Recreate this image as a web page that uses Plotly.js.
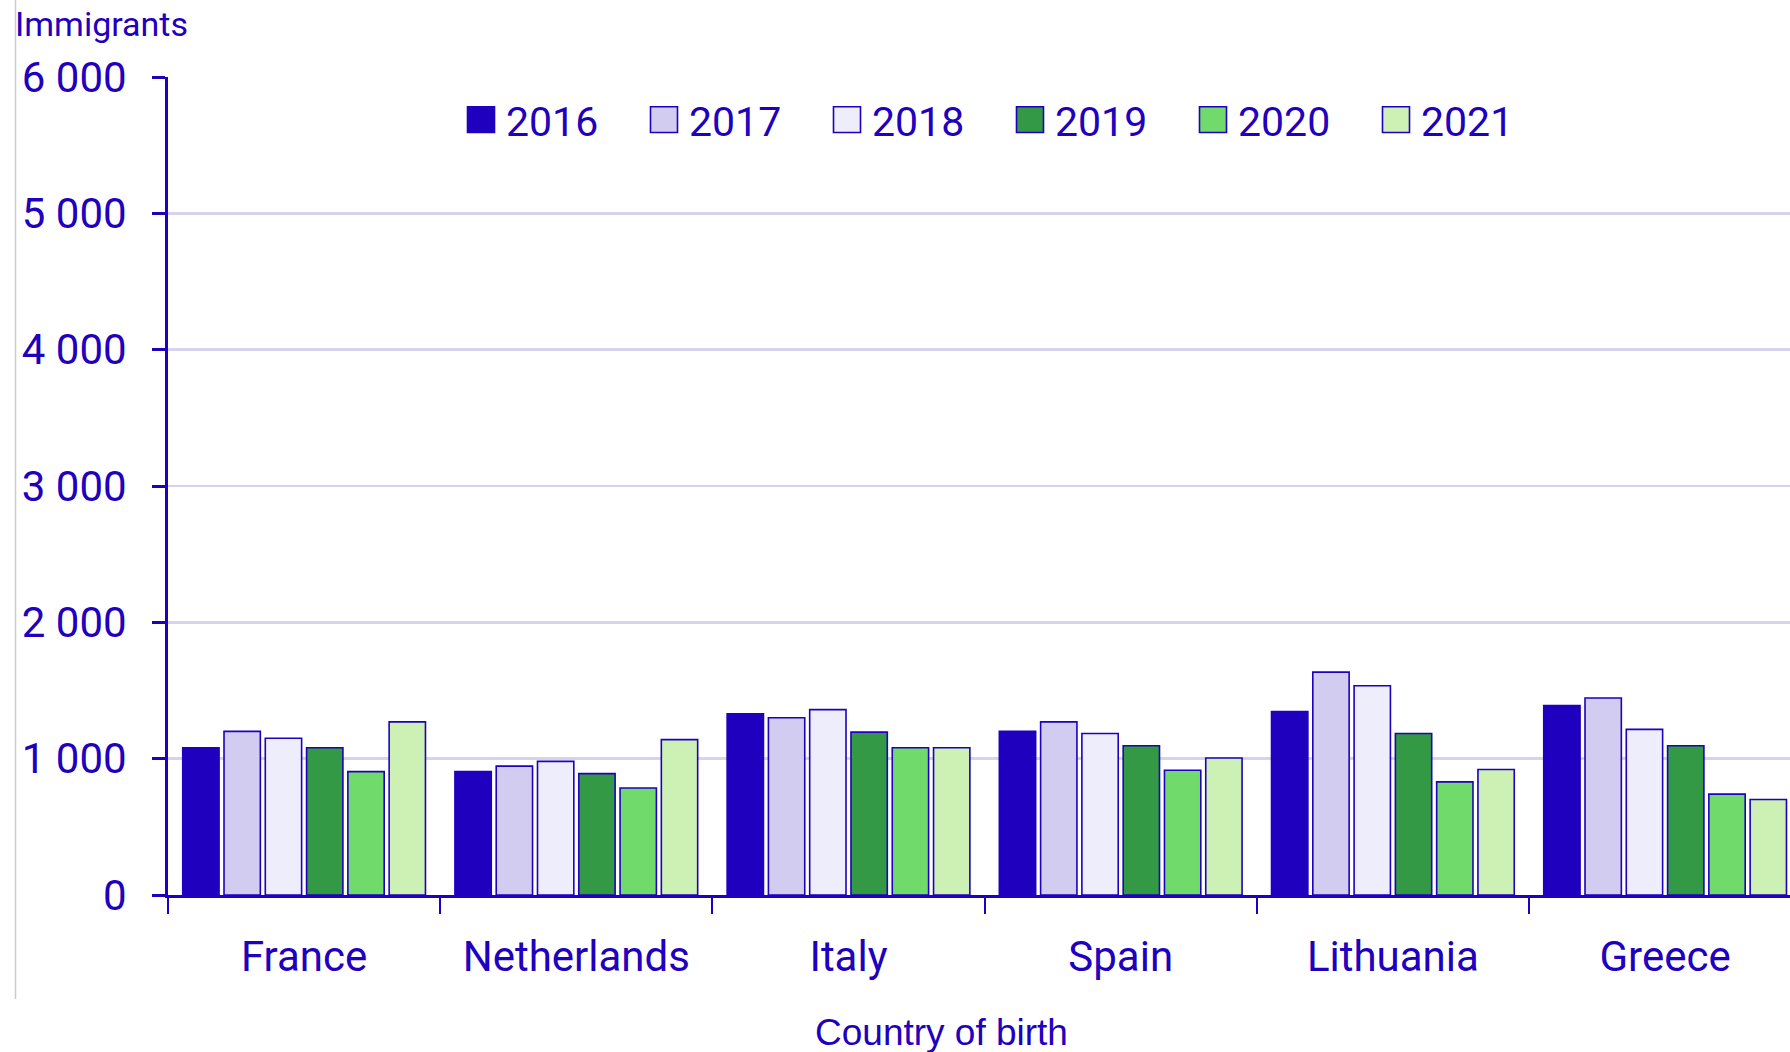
<!DOCTYPE html>
<html>
<head>
<meta charset="utf-8">
<script src="https://cdn.plot.ly/plotly-3.0.1.min.js"></script>
<style>
  html, body { margin: 0; padding: 0; background: #ffffff; }
  #chart { width: 1790px; height: 1052px; }
</style>
</head>
<body>
<div id="chart"></div>
<script>
// ---- data ----
const countries = ["France", "Netherlands", "Italy", "Spain", "Lithuania", "Greece"];
const years = ["2016", "2017", "2018", "2019", "2020", "2021"];
const v2016 = [1080, 905, 1330, 1200, 1345, 1390];
const v2017 = [1200, 945, 1300, 1270, 1635, 1445];
const v2018 = [1150, 980, 1360, 1185, 1535, 1215];
const v2019 = [1080, 890, 1195, 1095, 1185, 1095];
const v2020 = [905, 785, 1080, 915, 830, 740];
const v2021 = [1270, 1140, 1080, 1005, 920, 700];
const seriesValues = [v2016, v2017, v2018, v2019, v2020, v2021];
const yTickVals = [0, 1000, 2000, 3000, 4000, 5000, 6000];
const yTickText = ["0", "1 000", "2 000", "3 000", "4 000", "5 000", "6 000"];
const yTitle = "Immigrants";
const xTitle = "Country of birth";

// ---- style ----
const BLUE = "#1e00be";
const colors = ["#1e00be", "#d2ccf0", "#ededfc", "#339944", "#70db6a", "#cdf0b4"];
const W = 1790, H = 1052;
const mL = 168, mR = 0, mT = 77, mB = 157;
const plotW = W - mL - mR, plotH = H - mT - mB;
const px2x = p => (p - mL) / plotW;
const px2y = p => (H - mB - p) / plotH;

const traces = years.map((yr, i) => ({
  type: "bar",
  name: yr,
  x: countries,
  y: seriesValues[i],
  marker: { color: colors[i], line: { color: BLUE, width: 1.6 } },
  hoverinfo: "x+y+name"
}));

const layout = {
  width: W, height: H,
  margin: { l: mL, r: mR, t: mT, b: mB, pad: 0 },
  paper_bgcolor: "#ffffff",
  plot_bgcolor: "#ffffff",
  font: { family: "Roboto, 'Noto Sans', sans-serif", color: BLUE },
  barmode: "group",
  bargap: 0.09,
  bargroupgap: 0.12,
  showlegend: true,
  title: {
    text: yTitle,
    xref: "container", yref: "container",
    x: 15 / W, xanchor: "left",
    y: 1 - 24 / H, yanchor: "middle",
    font: { family: "Roboto, sans-serif", size: 34, color: BLUE }
  },
  legend: {
    orientation: "h",
    x: px2x(454), xanchor: "left",
    y: px2y(120), yanchor: "middle",
    font: { family: "Roboto, sans-serif", size: 41, color: BLUE },
    bgcolor: "rgba(0,0,0,0)",
    itemwidth: 42,
    entrywidth: 126, entrywidthmode: "pixels",
    traceorder: "normal"
  },
  xaxis: {
    type: "category",
    categoryorder: "array",
    categoryarray: countries,
    range: [-0.5, 5.5 - (mL + 6 * 272.2 - W) / 272.2],
    tickson: "boundaries",
    ticks: "outside", ticklen: 16, tickwidth: 2, tickcolor: BLUE,
    showline: true, linecolor: BLUE, linewidth: 3,
    showgrid: false, zeroline: false,
    tickfont: { family: "Roboto, sans-serif", size: 42, color: BLUE },
    ticklabelstandoff: 23,
    fixedrange: true
  },
  yaxis: {
    range: [0, 6000],
    tickmode: "array", tickvals: yTickVals, ticktext: yTickText,
    ticks: "outside", ticklen: 13, tickwidth: 3, tickcolor: BLUE,
    showline: true, linecolor: BLUE, linewidth: 3,
    showgrid: true, gridcolor: "#d6d3ef", gridwidth: 2.5,
    zeroline: false,
    tickfont: { family: "Roboto, sans-serif", size: 42, color: BLUE },
    ticklabelstandoff: 17,
    fixedrange: true
  },
  annotations: [{
    text: xTitle,
    xref: "paper", yref: "paper",
    x: px2x(941), y: px2y(1032),
    xanchor: "center", yanchor: "middle",
    showarrow: false,
    font: { family: "'Liberation Sans', Arial, sans-serif", size: 37, color: BLUE }
  }],
  shapes: [{
    type: "line", xref: "paper", yref: "paper",
    x0: px2x(15.5), x1: px2x(15.5), y0: px2y(0), y1: px2y(999),
    line: { color: "#cccccc", width: 1.5 }
  }]
};

Plotly.newPlot("chart", traces, layout, { displayModeBar: false, staticPlot: true }).then(gd => {
  // enlarge legend swatches to match the reference's square keys
  gd.querySelectorAll(".legend [clip-path]").forEach(el => el.removeAttribute("clip-path"));
  gd.querySelectorAll(".legend .legendpoints path").forEach(p => {
    p.setAttribute("transform", "translate(27,0) scale(2.25,2.15)");
    p.style.vectorEffect = "non-scaling-stroke";
  });
});
</script>
</body>
</html>
